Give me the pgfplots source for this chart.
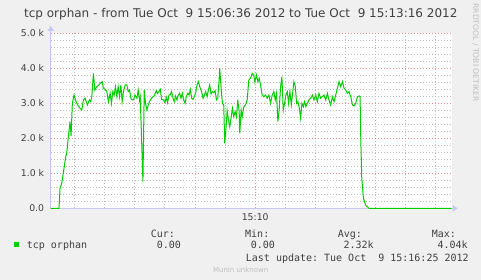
\documentclass[border=0pt]{standalone}
\usepackage{pgfplots}
\pgfplotsset{compat=1.18}
\usepackage{fontspec}
\setmainfont{DejaVu Sans}
\setmonofont{DejaVu Sans Mono}
\usetikzlibrary{arrows.meta}
\definecolor{bgc}{HTML}{F0F0F0}
\definecolor{axc}{HTML}{C8C8F0}
\definecolor{majg}{HTML}{E49090}
\definecolor{ming}{HTML}{BDBDBD}
\definecolor{linec}{HTML}{00CC00}
\definecolor{txt}{HTML}{404040}
\definecolor{faint}{HTML}{BEBEBE}
\begin{document}
\begin{tikzpicture}
\useasboundingbox (0,0) rectangle (481bp,280bp);
\fill[bgc] (0,0) rectangle (481bp,280bp);
\begin{axis}[
  scale only axis, width=401bp, height=175bp,
  at={(50.7bp,71.7bp)}, anchor=south west,
  xmin=0, xmax=400, ymin=0, ymax=5000,
  enlargelimits=false, clip=false,
  axis background/.style={fill=white},
  axis line style={draw=none},
  major tick length=0pt, minor tick length=0pt,
  xtick={204}, xticklabels={15:10},
  minor xtick={24,54,84,114,144,174,234,264,294,324,354,384},
  ytick={0,1000,2000,3000,4000,5000},
  yticklabels={0.0,1.0 k,2.0 k,3.0 k,4.0 k,5.0 k},
  minor ytick={200,400,600,800,1200,1400,1600,1800,2200,2400,2600,2800,3200,3400,3600,3800,4200,4400,4600,4800},
  grid=both,
  major grid style={draw=majg, line width=1bp, dash pattern=on 1bp off 2bp},
  minor grid style={draw=ming, line width=1bp, dash pattern=on 1bp off 2bp},
  xticklabel style={anchor=center, yshift=-8.4bp, font=\fontsize{9.3bp}{11bp}\selectfont, text=txt},
  yticklabel style={anchor=east, inner sep=0pt, xshift=-6.4bp, font=\fontsize{9.3bp}{11bp}\selectfont, text=txt},
]
\draw[axc, line width=1bp, -{Triangle[length=5bp,width=6bp]}] (axis cs:0,0) -- (axis cs:406,0);
\draw[axc, line width=1bp, -{Triangle[length=5bp,width=6bp]}] (axis cs:0,0) -- (axis cs:0,5215);
\addplot[linec, line width=1bp, mark=none] table {
x y
0 0
8.3 0
9.3 571
11.0 714
13.3 1143
15.0 1475
16.0 1571
17.6 2047
19.3 2475
20.3 2066
21.6 3000
23.3 3238
25.3 3047
27.0 2952
29.3 2857
31.0 2809
32.6 3095
34.3 3143
36.6 2952
38.6 3095
40.0 3047
41.0 3190
42.6 3857
44.0 3381
46.0 3476
48.0 3523
49.3 3571
51.3 3619
52.6 3428
54.3 3400
56.0 3333
57.6 3047
59.3 3285
60.6 3000
62.0 3333
63.3 3238
64.6 3476
66.0 3190
67.3 3476
68.6 3190
70.0 3523
71.3 3047
72.6 3333
74.3 3523
76.0 3523
77.3 3333
78.6 3381
80.0 3143
81.3 3095
82.6 3095
84.0 3238
86.0 3143
87.3 3381
88.6 3095
89.3 3190
90.6 2047
92.0 760
93.3 3381
94.6 3000
96.0 2809
97.3 2952
99.3 3095
101.3 3171
103.3 3209
105.3 3362
106.6 3285
108.0 3333
109.3 3400
110.6 3114
112.6 3095
114.0 3019
115.3 3171
116.6 3019
118.0 3238
119.3 3238
120.6 3333
122.0 3143
123.3 3047
124.6 3209
126.0 3095
127.3 3238
128.6 3285
130.0 3143
131.3 3285
132.6 3095
134.0 3000
135.3 3190
136.6 3285
138.0 3238
139.3 3400
140.6 3143
142.0 3114
143.3 3190
144.6 3305
146.0 3523
147.3 3619
148.6 3476
150.6 3333
152.0 3143
153.3 3238
154.6 3333
156.0 3190
157.3 3381
158.6 3523
160.0 3266
161.3 3333
162.6 3305
164.0 3362
165.3 3095
166.6 3143
168.0 3666
168.6 3999
170.0 3428
171.3 3000
172.6 2952
173.6 1857
175.0 2333
176.0 2790
177.3 2523
178.6 2333
180.0 2600
181.3 2857
182.6 2619
184.0 2762
185.3 2619
186.6 3095
188.0 2762
188.6 2143
190.0 2809
191.0 2619
192.6 2904
194.3 2952
196.0 3095
197.6 3666
199.3 3714
201.0 3857
202.6 3809
203.6 3619
205.3 3809
206.6 3619
208.0 3714
209.3 3523
211.0 3238
212.6 3190
214.3 3238
216.0 3143
217.6 3238
219.3 3000
221.0 3238
222.6 3333
224.0 3095
225.3 3285
226.6 2475
228.0 2857
229.3 3476
230.6 3761
232.0 2809
233.3 3000
234.6 3238
236.0 3333
237.3 3000
238.6 3333
240.0 2952
241.3 3285
242.6 3619
244.0 3476
245.3 3000
246.6 3047
248.0 2857
249.3 2571
250.6 3000
252.0 2904
253.3 3047
254.6 2904
256.0 3000
257.6 3095
259.3 3143
261.0 3238
262.6 3095
264.3 3238
266.0 3047
267.6 3285
269.3 3143
271.0 3190
272.6 3238
274.3 3095
276.0 3285
277.6 3095
279.3 2952
281.0 3190
282.6 3047
284.3 3238
286.0 3428
287.6 3619
289.3 3476
291.0 3619
292.6 3428
294.3 3381
296.0 3285
297.6 3333
299.3 3190
301.0 2952
302.6 2923
304.3 3000
306.0 3190
307.6 3209
308.6 3200
309.3 2000
310.3 850
312.0 280
314.3 80
317.6 0
400 0
};
\end{axis}
% title
\node[anchor=base, inner sep=0pt, text=txt, font=\fontsize{12bp}{14bp}\selectfont] at (240.8bp,262.3bp)
  {tcp orphan - from Tue Oct\ \ 9 15:06:36 2012 to Tue Oct\ \ 9 15:13:16 2012};
% vertical watermark
\node[rotate=-90, inner sep=0pt, text=faint, font=\fontsize{7.6bp}{9bp}\selectfont] at (475.5bp,227.5bp)
  {RRDTOOL / TOBI OETIKER};
% legend
\begin{scope}[every node/.style={anchor=base west, inner sep=0pt, text=txt, font=\ttfamily\fontsize{10bp}{12bp}\selectfont}]
\node at (150.7bp,42.7bp) {Cur:};
\node at (245.0bp,42.7bp) {Min:};
\node at (337.7bp,42.7bp) {Avg:};
\node at (431.7bp,42.7bp) {Max:};
\fill[linec] (14bp,33bp) rectangle (19.3bp,38.3bp);
\node at (26.7bp,31.3bp) {tcp orphan};
\node at (156.7bp,31.3bp) {0.00};
\node at (250.7bp,31.3bp) {0.00};
\node at (343.3bp,31.3bp) {2.32k};
\node at (437.3bp,31.3bp) {4.04k};
\node at (245.7bp,19.0bp) {Last update:\ Tue Oct\ \ 9 15:16:25 2012};
\end{scope}
\node[anchor=base, inner sep=0pt, text=faint, font=\fontsize{7bp}{8bp}\selectfont] at (240.7bp,8.0bp) {Munin unknown};
\end{tikzpicture}
\end{document}
